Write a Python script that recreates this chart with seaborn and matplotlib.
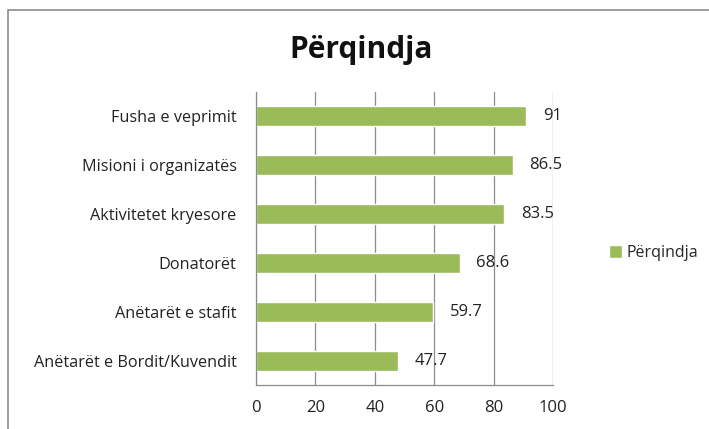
import matplotlib
matplotlib.use("Agg")
import matplotlib.pyplot as plt
import seaborn as sns
import pandas as pd
from matplotlib.patches import Rectangle

categories = ["Fusha e veprimit", "Misioni i organizatës", "Aktivitetet kryesore",
              "Donatorët", "Anëtarët e stafit", "Anëtarët e Bordit/Kuvendit"]
values = [91, 86.5, 83.5, 68.6, 59.7, 47.7]
value_labels = ["91", "86.5", "83.5", "68.6", "59.7", "47.7"]
series_name = "Përqindja"
xticks = [0, 20, 40, 60, 80, 100]

sns.set_style("white")
plt.rcParams["font.family"] = ["Open Sans", "DejaVu Sans"]

df = pd.DataFrame({"cat": categories, "val": values, "series": series_name})

fig = plt.figure(figsize=(7.09, 4.29), dpi=100)
ax = fig.add_axes([256 / 709, 1 - 385 / 429, (553 - 256) / 709, (385 - 92) / 429])

sns.barplot(data=df, x="val", y="cat", hue="series", palette=["#9BBB59"],
            orient="h", width=0.41, ax=ax, legend=True, saturation=1)

ax.set_xlim(0, 100)
ax.set_xticks(xticks)
ax.set_ylim(5.5, -0.5)
ax.set_xlabel("")
ax.set_ylabel("")
ax.xaxis.grid(True, color="#8c8c8c", linewidth=0.9)
ax.set_axisbelow(True)
for s in ["top", "right"]:
    ax.spines[s].set_visible(False)
for s in ["left", "bottom"]:
    ax.spines[s].set_color("#8c8c8c")
    ax.spines[s].set_linewidth(0.9)

ax.tick_params(axis="x", length=5, color="#8c8c8c", labelsize=12, pad=6, labelcolor="#222222")
ax.tick_params(axis="y", which="major", length=0, labelsize=11.7, pad=14, labelcolor="#222222")
ax.set_yticks([i + 0.5 for i in range(-1, 6)], minor=True)
ax.tick_params(axis="y", which="minor", length=5, color="#8c8c8c")

ax.bar_label(ax.containers[0], labels=value_labels, padding=12, fontsize=12, color="#222222")

leg = ax.legend(loc="center left", bbox_to_anchor=(595 / 709, 1 - 253 / 429), bbox_transform=fig.transFigure,
                frameon=False, fontsize=11.5, handlelength=0.8, handleheight=0.8, handletextpad=0.3)

fig.text(361 / 709, 1 - 50 / 429, "Përqindja", ha="center", va="center",
         fontsize=21.5, fontweight="bold", color="#111111")

fig.patches.append(Rectangle((8 / 709, -0.1), 1.2, 1 - 10 / 429 + 0.1, transform=fig.transFigure,
                             fill=False, edgecolor="#8c8c8c", linewidth=1.2))

fig.savefig("out.png", dpi=100)
